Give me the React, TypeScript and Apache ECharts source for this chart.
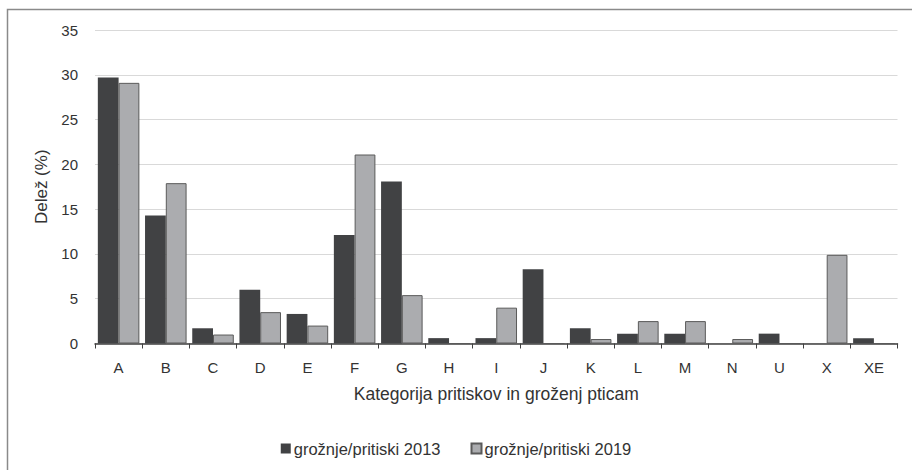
import React, { useEffect, useRef } from "react";
import * as echarts from "echarts";

const categories = ["A", "B", "C", "D", "E", "F", "G", "H", "I", "J", "K", "L", "M", "N", "U", "X", "XE"];
const values2013 = [29.7, 14.3, 1.7, 6.0, 3.3, 12.1, 18.1, 0.6, 0.6, 8.3, 1.7, 1.1, 1.1, 0, 1.1, 0, 0.6];
const values2019 = [29.1, 17.9, 1.0, 3.5, 2.0, 21.1, 5.4, 0, 4.0, 0, 0.5, 2.5, 2.5, 0.5, 0, 9.9, 0];
const yTicks = { min: 0, max: 35, interval: 5 };
const seriesNames = ["grožnje/pritiski 2013", "grožnje/pritiski 2019"];
const xTitle = "Kategorija pritiskov in groženj pticam";
const yTitle = "Delež (%)";

const FONT = "Liberation Sans";

export default function App() {
  const ref = useRef<HTMLDivElement>(null);
  useEffect(() => {
    if (!ref.current) return;
    const chart = echarts.init(ref.current, null, { renderer: "svg" });
    chart.setOption({
      animation: false,
      backgroundColor: "#ffffff",
      textStyle: { fontFamily: FONT },
      graphic: [
        {
          type: "rect",
          shape: { x: 7.5, y: 9.5, width: 930, height: 490 },
          style: { fill: "none", stroke: "#8a8a8a", lineWidth: 1.5 },
          silent: true,
        },
      ],
      grid: { left: 95, right: 14.5, top: 30, bottom: 126.5, containLabel: false },
      legend: {
        data: seriesNames,
        left: "center",
        top: 435,
        icon: "rect",
        itemWidth: 10,
        itemHeight: 10,
        itemGap: 30,
        textStyle: { fontFamily: FONT, fontSize: 16.5, color: "#333333", padding: [0, 0, 0, -2] },
      },
      xAxis: {
        type: "category",
        data: categories,
        axisLine: { lineStyle: { color: "#404040", width: 1.5 } },
        axisTick: { show: true, length: 5, alignWithLabel: false, lineStyle: { color: "#404040" } },
        axisLabel: { fontFamily: FONT, fontSize: 15, color: "#333333", margin: 16 },
        name: xTitle,
        nameLocation: "middle",
        nameGap: 41,
        nameTextStyle: { fontFamily: FONT, fontSize: 17.5, color: "#333333" },
      },
      yAxis: {
        type: "value",
        min: yTicks.min,
        max: yTicks.max,
        interval: yTicks.interval,
        axisLine: { show: false },
        axisTick: { show: false },
        axisLabel: { fontFamily: FONT, fontSize: 15, color: "#333333", margin: 17 },
        splitLine: { lineStyle: { color: "#d9d9d9", width: 1 } },
        name: yTitle,
        nameLocation: "middle",
        nameRotate: 90,
        nameGap: 42,
        nameTextStyle: { fontFamily: FONT, fontSize: 17, color: "#333333" },
      },
      series: [
        {
          name: seriesNames[0],
          type: "bar",
          data: values2013,
          barGap: "0%",
          barCategoryGap: "12%",
          itemStyle: { color: "#414244" },
        },
        {
          name: seriesNames[1],
          type: "bar",
          data: values2019,
          barGap: "0%",
          barCategoryGap: "12%",
          itemStyle: { color: "#abacaf", borderColor: "#5a5a5a", borderWidth: 1 },
        },
      ],
    });
    return () => chart.dispose();
  }, []);
  return (
    <div
      ref={ref}
      style={{ position: "fixed", left: 0, top: 0, width: 912, height: 470, background: "#fff" }}
    />
  );
}
